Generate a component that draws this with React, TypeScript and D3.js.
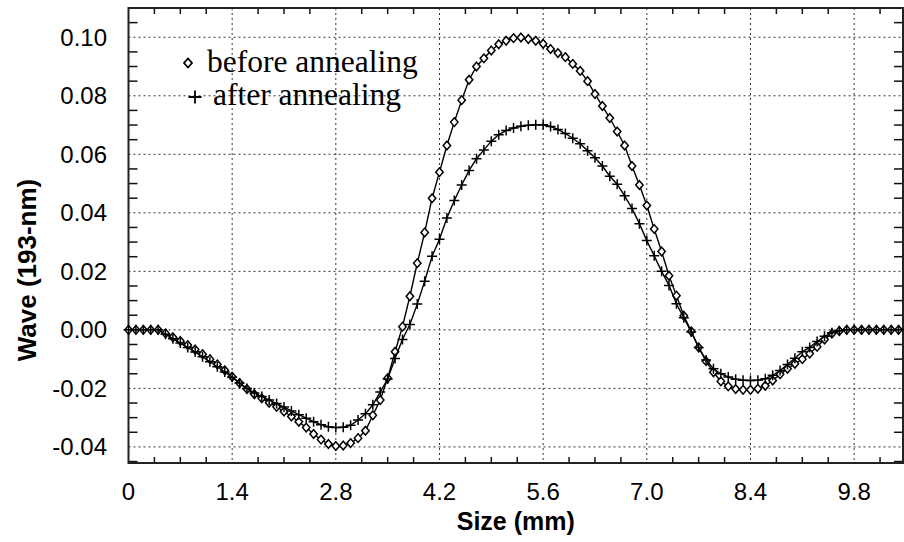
import React from "react";
import * as d3 from "d3";

// Radial position (mm) of each sample
const sizes = [
  0.0, 0.1, 0.2, 0.3, 0.4, 0.5, 0.6, 0.7, 0.8, 0.9,
  1.0, 1.1, 1.2, 1.3, 1.4, 1.5, 1.6, 1.7, 1.8, 1.9,
  2.0, 2.1, 2.2, 2.3, 2.4, 2.5, 2.6, 2.7, 2.8, 2.9,
  3.0, 3.1, 3.2, 3.3, 3.4, 3.5, 3.6, 3.7, 3.8, 3.9,
  4.0, 4.1, 4.2, 4.3, 4.4, 4.5, 4.6, 4.7, 4.8, 4.9,
  5.0, 5.1, 5.2, 5.3, 5.4, 5.5, 5.6, 5.7, 5.8, 5.9,
  6.0, 6.1, 6.2, 6.3, 6.4, 6.5, 6.6, 6.7, 6.8, 6.9,
  7.0, 7.1, 7.2, 7.3, 7.4, 7.5, 7.6, 7.7, 7.8, 7.9,
  8.0, 8.1, 8.2, 8.3, 8.4, 8.5, 8.6, 8.7, 8.8, 8.9,
  9.0, 9.1, 9.2, 9.3, 9.4, 9.5, 9.6, 9.7, 9.8, 9.9,
  10.0, 10.1, 10.2, 10.3, 10.4,
];

// wavefront, before annealing (diamonds)
const beforeAnnealing = [
  0, 0, 0, 0, 0, -0.0012, -0.0025, -0.0038, -0.0052, -0.0067,
  -0.0083, -0.01, -0.0118, -0.0138, -0.016, -0.0182, -0.0202, -0.022, -0.0234, -0.0249,
  -0.0263, -0.0279, -0.0296, -0.0314, -0.0334, -0.0356, -0.0375, -0.039, -0.0397, -0.0395,
  -0.0387, -0.037, -0.0345, -0.0292, -0.024, -0.0165, -0.0075, 0.0011, 0.0115, 0.0228,
  0.0333, 0.045, 0.0539, 0.063, 0.071, 0.0785, 0.0855, 0.09, 0.0928, 0.0955,
  0.0976, 0.0988, 0.0997, 0.0999, 0.0994, 0.0988, 0.0978, 0.096, 0.0946, 0.0932,
  0.0909, 0.0885, 0.085, 0.0806, 0.0765, 0.0724, 0.0678, 0.063, 0.056, 0.0495,
  0.0425, 0.0345, 0.0268, 0.0185, 0.0117, 0.0048, -0.0005, -0.006, -0.0107, -0.0145,
  -0.0176, -0.0193, -0.0202, -0.0205, -0.0205, -0.0201, -0.0191, -0.0173, -0.0152, -0.0133,
  -0.0116, -0.01, -0.0081, -0.0058, -0.0033, -0.0013, -0.0004, 0, 0, 0,
  0, 0, 0, 0, 0,
];

// wavefront, after annealing (crosses)
const afterAnnealing = [
  0, 0, 0, 0, 0, -0.0015, -0.003, -0.0045, -0.006, -0.0076,
  -0.0092, -0.0109, -0.0126, -0.0144, -0.0162, -0.0182, -0.02, -0.0216, -0.0228, -0.024,
  -0.0252, -0.0264, -0.0277, -0.029, -0.0302, -0.0314, -0.0324, -0.0331, -0.0334, -0.0333,
  -0.0326, -0.0308, -0.0287, -0.0256, -0.0212, -0.0168, -0.0098, -0.0033, 0.0018, 0.0088,
  0.0166, 0.0252, 0.031, 0.0382, 0.0442, 0.0495, 0.0545, 0.0585, 0.0615, 0.0645,
  0.0667, 0.0681, 0.069, 0.0696, 0.0699, 0.0701, 0.0701, 0.0695, 0.0685, 0.0671,
  0.0655, 0.0636, 0.0612, 0.0588, 0.056, 0.0525, 0.0498, 0.0458, 0.0415, 0.0363,
  0.0305, 0.0253, 0.02, 0.0152, 0.0089, 0.0041, -0.0007, -0.006, -0.0103, -0.0133,
  -0.015, -0.0161, -0.0169, -0.0172, -0.0173, -0.0172, -0.0167, -0.0155, -0.0139, -0.0118,
  -0.0097, -0.0075, -0.006, -0.004, -0.0022, -0.001, -0.0003, 0, 0, 0,
  0, 0, 0, 0, 0,
];

const xTickValues = [0, 1.4, 2.8, 4.2, 5.6, 7.0, 8.4, 9.8];
const xTickLabels = ["0", "1.4", "2.8", "4.2", "5.6", "7.0", "8.4", "9.8"];
const yTickValues = [-0.04, -0.02, 0.0, 0.02, 0.04, 0.06, 0.08, 0.1];
const yTickLabels = ["-0.04", "-0.02", "0.00", "0.02", "0.04", "0.06", "0.08", "0.10"];

const legendLabels = ["before annealing", "after annealing"];

const W = 904;
const H = 542;
const left = 128.5;
const right = 903;
const top = 8;
const bottom = 463;

const sans = "'Liberation Sans', Arial, sans-serif";
const serif = "'Liberation Serif', 'Times New Roman', serif";

const diamond = "M0,-4.3 L3.7,0 L0,4.3 L-3.7,0 Z";
const cross = "M-5,0 H5 M0,-5 V5";

export default function App() {
  const x = d3.scaleLinear().domain([0, 10.46]).range([left, right]);
  const y = d3.scaleLinear().domain([-0.0455, 0.11]).range([bottom, top]);

  const line = d3
    .line<number>()
    .x((_, i) => x(sizes[i]))
    .y((d) => y(d));

  // minor ticks (not on the gridlines)
  const isMajor = (v: number, list: number[]) => list.some((m) => Math.abs(m - v) < 1e-6);
  const xMinor = d3.range(0, 10.46, 0.35).filter((v) => !isMajor(v, xTickValues));
  const yMinor = d3.range(-0.045, 0.1101, 0.005).filter((v) => !isMajor(v, yTickValues));

  return (
    <div style={{ position: "absolute", left: 0, top: 0 }}>
      <svg width={W} height={H} style={{ display: "block", background: "#fff" }}>
        {/* grid */}
        <g stroke="#333" strokeWidth={1} strokeDasharray="2,3">
          {xTickValues.slice(1).map((v) => (
            <line key={"gx" + v} x1={x(v)} x2={x(v)} y1={top} y2={bottom} />
          ))}
          {yTickValues.map((v) => (
            <line key={"gy" + v} x1={left} x2={right} y1={y(v)} y2={y(v)} />
          ))}
        </g>

        {/* ticks */}
        <g stroke="#111" strokeWidth={1.5}>
          {xMinor.map((v) => (
            <g key={"tx" + v}>
              <line x1={x(v)} x2={x(v)} y1={bottom} y2={bottom - 6} />
              <line x1={x(v)} x2={x(v)} y1={top} y2={top + 6} />
            </g>
          ))}
          {yMinor.map((v) => (
            <g key={"ty" + v}>
              <line x1={left} x2={left + 9} y1={y(v)} y2={y(v)} />
              <line x1={right} x2={right - 9} y1={y(v)} y2={y(v)} />
            </g>
          ))}
        </g>

        {/* frame */}
        <rect
          x={left}
          y={top}
          width={right - left}
          height={bottom - top}
          fill="none"
          stroke="#222"
          strokeWidth={2}
        />

        {/* before annealing */}
        <path d={line(beforeAnnealing) || ""} fill="none" stroke="#000" strokeWidth={1.4} />
        <g fill="#fff" stroke="#000" strokeWidth={1.5}>
          {beforeAnnealing.map((v, i) => (
            <path key={"b" + i} d={diamond} transform={`translate(${x(sizes[i])},${y(v)})`} />
          ))}
        </g>

        {/* after annealing */}
        <path d={line(afterAnnealing) || ""} fill="none" stroke="#000" strokeWidth={1.4} />
        <g fill="none" stroke="#000" strokeWidth={1.5}>
          {afterAnnealing.map((v, i) => (
            <path key={"a" + i} d={cross} transform={`translate(${x(sizes[i])},${y(v)})`} />
          ))}
        </g>

        {/* tick labels */}
        <g fontFamily={sans} fontSize={24} fill="#000">
          {xTickValues.map((v, i) => (
            <text key={"lx" + v} x={x(v)} y={500} textAnchor="middle">
              {xTickLabels[i]}
            </text>
          ))}
          {yTickValues.map((v, i) => (
            <text key={"ly" + v} x={107} y={y(v)} dy="0.35em" textAnchor="end">
              {yTickLabels[i]}
            </text>
          ))}
        </g>

        {/* axis titles */}
        <text
          x={(left + right) / 2}
          y={530}
          textAnchor="middle"
          fontFamily={sans}
          fontWeight="bold"
          fontSize={25}
        >
          Size (mm)
        </text>
        <text
          transform="translate(36,270) rotate(-90)"
          textAnchor="middle"
          fontFamily={sans}
          fontWeight="bold"
          fontSize={26}
        >
          Wave (193-nm)
        </text>

        {/* legend */}
        <path d="M0,-4.5 L4,0 L0,4.5 L-4,0 Z" transform="translate(188,63)" fill="#fff" stroke="#000" strokeWidth={1.8} />
        <text x={207} y={72} fontFamily={serif} fontSize={31.5}>
          {legendLabels[0]}
        </text>
        <path d="M-6.5,0 H6.5 M0,-6.5 V6.5" transform="translate(195,97)" stroke="#000" strokeWidth={1.8} />
        <text x={213} y={105} fontFamily={serif} fontSize={31.5}>
          {legendLabels[1]}
        </text>
      </svg>
    </div>
  );
}
